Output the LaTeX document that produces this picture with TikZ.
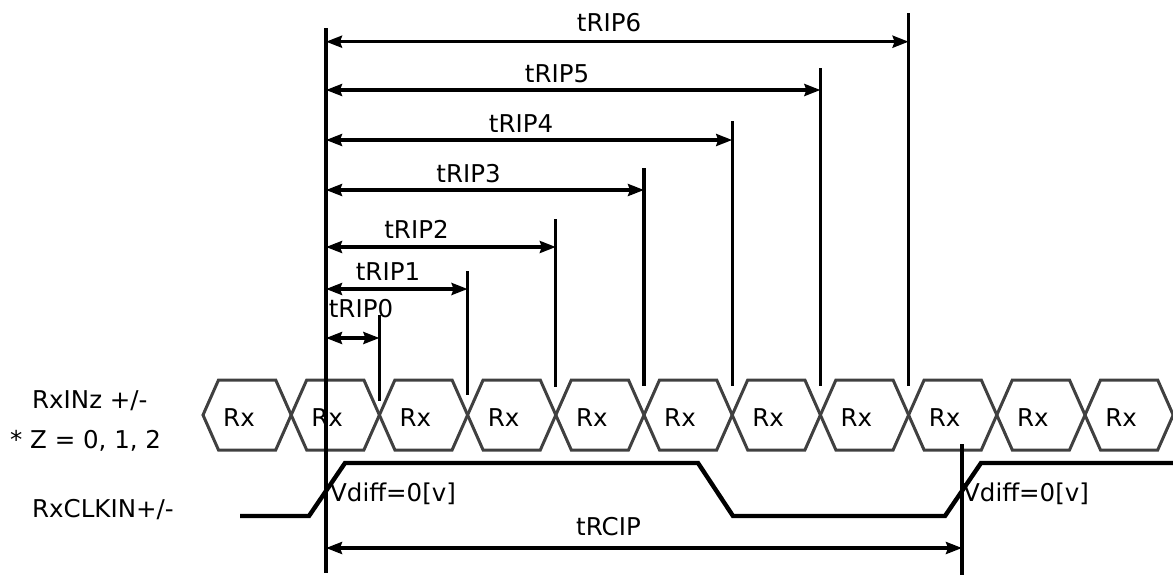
\documentclass[tikz,border=0pt]{standalone}
\usepackage{fontspec}
\setmainfont{DejaVu Sans}
\usetikzlibrary{arrows.meta}
\definecolor{hexgray}{HTML}{404040}
\tikzset{
  hexa/.style={draw=hexgray, line width=3pt, line join=miter},
  sig/.style={line width=4.4pt, line join=miter},
  vline/.style={line width=3.2pt},
  dimarrow/.style={line width=3.2pt, {Stealth[length=16pt,width=12pt,inset=2pt]}-{Stealth[length=16pt,width=12pt,inset=2pt]}},
  lbl/.style={inner sep=0pt, font=\fontsize{24.5}{29}\selectfont}
}
\begin{document}
\begin{tikzpicture}[x=1pt, y=-1pt]
  \useasboundingbox (0,0) rectangle (1173,576);
  % data words
  \foreach \k in {0,...,10} {
    \pgfmathsetmacro{\hx}{203+88.2*\k}
    \draw[hexa] (\hx,415) -- ++(15.5,-35) -- ++(57.2,0) -- ++(15.5,35) -- ++(-15.5,35) -- ++(-57.2,0) -- cycle;
    \node[lbl, anchor=base] (rx\k) at (\hx+36,426.5) {Rx};
  }
  \node[lbl, anchor=base west] (rxin) at (32,408) {RxINz +/-};
  \node[lbl, anchor=base west] (zval) at (10,448) {* Z = 0, 1, 2};
  \node[lbl, anchor=base west] (rxclk) at (32,517) {RxCLKIN+/-};
  % clock
  \coordinate (clk0) at (240,516);
  \coordinate (clk1) at (1175,463);
  \draw[sig] (clk0) -- (309,516) -- (345,463) -- (698,463) -- (733,516) -- (945,516) -- (981,463) -- (clk1);
  \node[lbl, anchor=base west] (vd1) at (330,501.7) {Vdiff=0[v]};
  \node[lbl, anchor=base west] (vd2) at (963,501.7) {Vdiff=0[v]};
  % reference lines
  \coordinate (reftop) at (326,28);
  \coordinate (refbot) at (326,573);
  \draw[vline] (reftop) -- (refbot);
  \coordinate (rctop) at (962,444);
  \coordinate (rcbot) at (962,575);
  \draw[vline] (rctop) -- (rcbot);
  % tRIP0..6
  \foreach \i/\xx/\yt/\yb/\ya/\xl/\yl in {0/379.4/315/401/338/361/317.7, 1/467.6/271/395/289/388/280, 2/555.8/219/387/247/416.5/238, 3/644/168/386/190/468.5/182, 4/732.2/121/386/140/521/132, 5/820.4/68/386/90/557/82, 6/908.6/13/386/41.7/609/31} {
    \coordinate (top\i) at (\xx,\yt);
    \coordinate (end\i) at (\xx,\ya);
    \draw[vline] (top\i) -- (\xx,\yb);
    \draw[dimarrow] (reftop |- end\i) -- (end\i);
    \node[lbl, anchor=base] (trip\i) at (\xl,\yl) {tRIP\i};
  }
  % tRCIP
  \coordinate (rc0) at (326,548);
  \coordinate (rc1) at (962,548);
  \draw[dimarrow] (rc0) -- (rc1);
  \node[lbl, anchor=base] (trcip) at (608.5,535) {tRCIP};
\end{tikzpicture}
\end{document}
